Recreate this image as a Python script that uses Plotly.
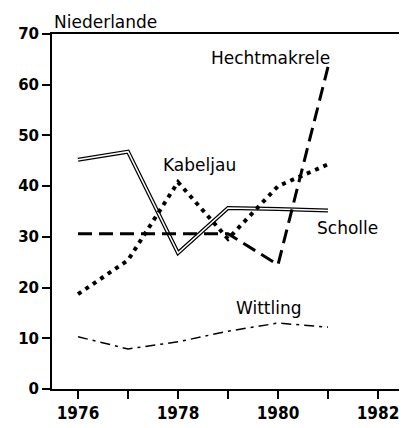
import plotly.graph_objects as go

years = [1976, 1977, 1978, 1979, 1980, 1981]
scholle = [45.2, 46.8, 26.8, 35.7, 35.5, 35.2]
hechtmakrele = [30.6, 30.6, 30.6, 30.6, 24.5, 63.5]
kabeljau = [18.7, 25.4, 40.8, 29.6, 40.0, 44.3]
wittling = [10.3, 7.9, 9.3, 11.4, 13.0, 12.2]

x_ticks = [1976, 1978, 1980, 1982]
y_ticks = [0, 10, 20, 30, 40, 50, 60, 70]

FONT = "DejaVu Sans"
black = "black"

fig = go.Figure()

# Scholle: double line (thick black with a thin white core)
fig.add_trace(go.Scatter(x=years, y=scholle, mode="lines",
                         line=dict(color=black, width=4), showlegend=False))
fig.add_trace(go.Scatter(x=years, y=scholle, mode="lines",
                         line=dict(color="white", width=1.5), showlegend=False))

fig.add_trace(go.Scatter(x=years, y=hechtmakrele, mode="lines",
                         line=dict(color=black, width=3, dash="14px,7px"),
                         showlegend=False))
fig.add_trace(go.Scatter(x=years, y=kabeljau, mode="lines",
                         line=dict(color=black, width=4, dash="4px,5px"),
                         showlegend=False))
fig.add_trace(go.Scatter(x=years, y=wittling, mode="lines",
                         line=dict(color=black, width=1.5, dash="10px,5px,3px,5px"),
                         showlegend=False))

labels = [
    ("Hechtmakrele", 1979.84, 65.3),
    ("Kabeljau", 1978.42, 44.2),
    ("Scholle", 1981.38, 31.7),
    ("Wittling", 1979.81, 16.0),
]
for text, x, y in labels:
    fig.add_annotation(x=x, y=y, text=text, showarrow=False, xanchor="center",
                       yanchor="middle",
                       font=dict(family=FONT, size=17, color=black))

fig.add_annotation(xref="paper", yref="paper", x=0, y=1.0, text="Niederlande",
                   showarrow=False, xanchor="left", yanchor="bottom",
                   font=dict(family=FONT, size=17, color=black))

# page body adds an 8px offset, so the figure is sized to the remaining area
fig.update_layout(
    width=399, height=420,
    margin=dict(l=44, r=2, t=26, b=39),
    plot_bgcolor="white", paper_bgcolor="white",
    font=dict(family=FONT, color=black),
)
fig.update_xaxes(range=[1975.48, 1982.5], tickvals=x_ticks, ticks="outside",
                 ticklen=8, tickwidth=1.5, tickcolor=black,
                 minor=dict(tickvals=[1977, 1979, 1981], ticks="outside",
                            ticklen=8, tickwidth=1.5, tickcolor=black),
                 showgrid=False, zeroline=False, showline=True, linecolor=black,
                 linewidth=2, mirror=True,
                 tickfont=dict(family="DejaVu Sans Condensed", size=17,
                               color=black, weight="bold"))
fig.update_yaxes(range=[0, 70], tickvals=y_ticks, ticks="outside", ticklen=8,
                 tickwidth=1.5, tickcolor=black, showgrid=False, zeroline=False,
                 showline=True, linecolor=black, linewidth=2, mirror=True,
                 tickfont=dict(family=FONT, size=15, color=black, weight="bold"))

fig.write_html("out.html")
